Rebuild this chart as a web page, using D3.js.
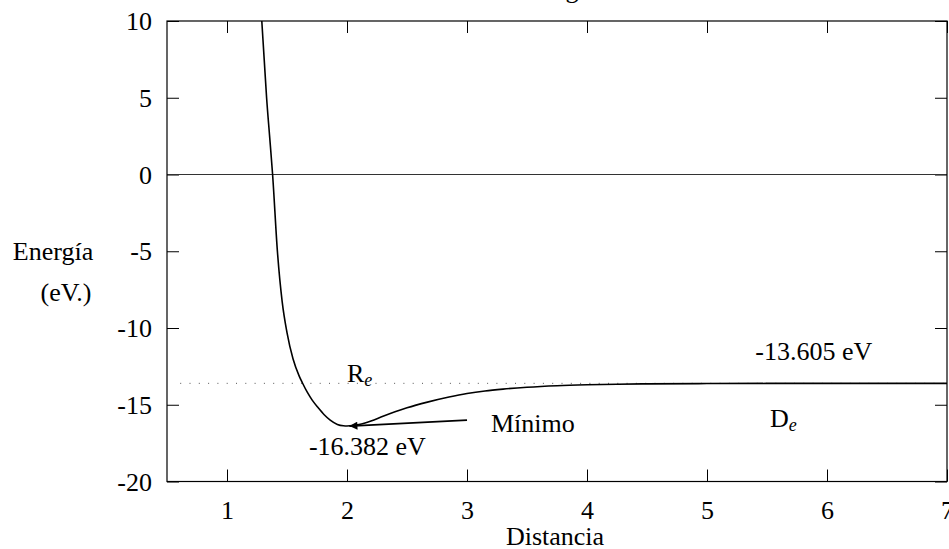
<!DOCTYPE html>
<html><head><meta charset="utf-8">
<script src="https://cdn.jsdelivr.net/npm/d3@7"></script>
<style>
body{margin:0;background:#fff;}
text{font-family:"Liberation Serif","Times New Roman",serif;fill:#000;}
</style></head>
<body><svg id="c" width="949" height="549"></svg>
<script>
// Data
const curveX = [1.29, 1.31, 1.33, 1.355, 1.38, 1.42, 1.46, 1.50, 1.55, 1.60, 1.63, 1.67, 1.71, 1.76, 1.81, 1.86, 1.92, 1.97, 2.0, 2.1, 2.2, 2.3, 2.4, 2.5, 2.67, 2.85, 3.0, 3.15, 3.3, 3.5, 3.75, 4.0, 4.25, 4.5, 5.0, 5.5, 6.0, 6.5, 7.0];
const curveY = [10, 7.5, 5, 2.5, 0, -5, -8.3, -10.3, -12.0, -13.1, -13.6, -14.2, -14.7, -15.2, -15.65, -16.0, -16.28, -16.37, -16.382, -16.29, -16.06, -15.75, -15.46, -15.2, -14.83, -14.5, -14.27, -14.1, -13.98, -13.86, -13.76, -13.7, -13.66, -13.64, -13.62, -13.61, -13.605, -13.605, -13.605];
const xTicks = [1, 2, 3, 4, 5, 6, 7];
const yTicks = [-20, -15, -10, -5, 0, 5, 10];
const asymptote = -13.605;
const arrowFrom = [3.0, -16.0];
const arrowTo = [2.02, -16.39];
const labels = [
  {text: "-16.382 eV", x: 2.17, y: -18.25, anchor: "middle"},
  {text: "Mínimo", x: 3.2, y: -16.75, anchor: "start"},
  {text: "-13.605 eV", x: 5.89, y: -12.1, anchor: "middle"}
];
const subLabels = [
  {main: "R", sub: "e", x: 2.0, y: -13.55},
  {main: "D", sub: "e", x: 5.525, y: -16.48}
];

const svg = d3.select("#c");
const x = d3.scaleLinear().domain([0.5, 7]).range([167, 947]);
const y = d3.scaleLinear().domain([-20, 10]).range([481.5, 21]);
const fs = 26;
const fmt = d => String(d);

const defs = svg.append("defs");
defs.append("clipPath").attr("id","clip")
  .append("rect").attr("x",167).attr("y",21).attr("width",780).attr("height",460.5);
const marker = defs.append("marker").attr("id","ah")
  .attr("viewBox","0 0 10 10").attr("refX",10).attr("refY",5)
  .attr("markerWidth",12).attr("markerHeight",8).attr("markerUnits","userSpaceOnUse")
  .attr("orient","auto");
marker.append("path").attr("d","M0,0 L10,5 L0,10 Z").attr("fill","#000");

// title (mostly off-canvas)
svg.append("text").attr("x", (x(0.5)+x(7))/2).attr("y", -2).attr("text-anchor","middle")
  .attr("font-size", fs).text("Energía");

// axes with inward ticks
const gB = svg.append("g").attr("transform",`translate(0,${y(-20)})`)
  .call(d3.axisBottom(x).tickValues(xTicks).tickSize(-12).tickFormat(fmt));
gB.selectAll("text").attr("dy", null).attr("y", 37.5).attr("font-size", fs).style("font-family",'"Liberation Serif",serif');
const gT = svg.append("g").attr("transform",`translate(0,${y(10)})`)
  .call(d3.axisTop(x).tickValues(xTicks).tickSize(-12).tickFormat(""));
const gL = svg.append("g").attr("transform",`translate(${x(0.5)},0)`)
  .call(d3.axisLeft(y).tickValues(yTicks).tickSize(-12).tickPadding(15).tickFormat(fmt));
gL.selectAll("text").attr("dy", null).attr("y", 8.5).attr("font-size", fs).style("font-family",'"Liberation Serif",serif');
const gR = svg.append("g").attr("transform",`translate(${x(7)},0)`)
  .call(d3.axisRight(y).tickValues(yTicks).tickSize(-12).tickFormat(""));
[gB,gT,gL,gR].forEach(g=>{ g.select(".domain").remove(); g.selectAll("line").attr("stroke","#000").attr("stroke-width",1); });

// zero line
svg.append("line").attr("x1",x(0.5)).attr("x2",x(7)).attr("y1",y(0)).attr("y2",y(0))
  .attr("stroke","#333").attr("stroke-width",1.2);

// dotted asymptote
svg.append("line").attr("x1",x(0.61)).attr("x2",x(7)).attr("y1",y(asymptote)).attr("y2",y(asymptote))
  .attr("stroke","#555").attr("stroke-width",1).attr("stroke-dasharray","1,8.3");

// curve
const pts = curveX.map((v,i)=>[v, curveY[i]]);
svg.append("path").attr("clip-path","url(#clip)")
  .attr("d", d3.line().x(d=>x(d[0])).y(d=>y(d[1])).curve(d3.curveMonotoneX)(pts))
  .attr("fill","none").attr("stroke","#000").attr("stroke-width",1.6);

// arrow to minimum
svg.append("line").attr("x1",x(arrowFrom[0])).attr("y1",y(arrowFrom[1]))
  .attr("x2",x(arrowTo[0])).attr("y2",y(arrowTo[1]))
  .attr("stroke","#000").attr("stroke-width",1.6).attr("marker-end","url(#ah)");

// frame
svg.append("rect").attr("x",x(0.5)).attr("y",y(10)).attr("width",x(7)-x(0.5)).attr("height",y(-20)-y(10))
  .attr("fill","none").attr("stroke","#000").attr("stroke-width",1.2);

// labels
labels.forEach(l=>{
  svg.append("text").attr("x",x(l.x)).attr("y",y(l.y)).attr("text-anchor",l.anchor)
    .attr("font-size",fs).text(l.text);
});
subLabels.forEach(l=>{
  const t = svg.append("text").attr("x",x(l.x)).attr("y",y(l.y)).attr("font-size",fs);
  t.append("tspan").text(l.main);
  t.append("tspan").attr("font-size",18).attr("font-style","italic").attr("dy",4).text(l.sub);
});

// axis titles
svg.append("text").attr("x",(x(0.5)+x(7))/2 - 2).attr("y",545).attr("text-anchor","middle")
  .attr("font-size",fs).text("Distancia");
svg.append("text").attr("x",53).attr("y",259.5).attr("text-anchor","middle")
  .attr("font-size",fs).text("Energía");
svg.append("text").attr("x",66).attr("y",301).attr("text-anchor","middle")
  .attr("font-size",fs).text("(eV.)");
</script></body></html>
